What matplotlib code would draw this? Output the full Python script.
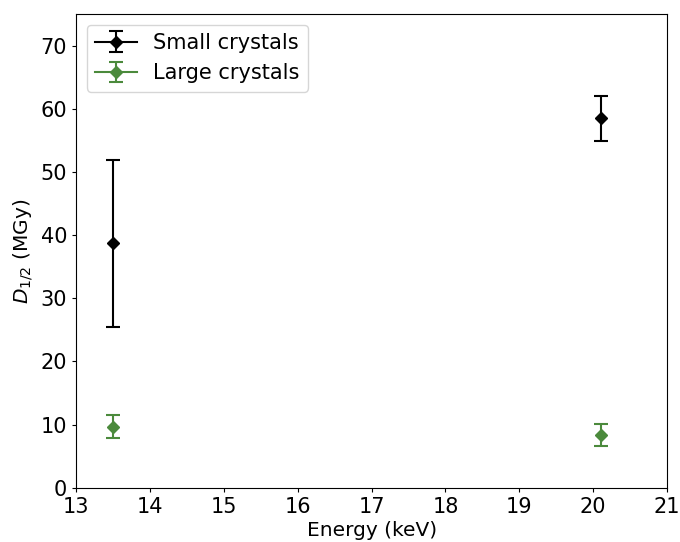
import numpy as np
import matplotlib
matplotlib.use('Agg')
import matplotlib.pyplot as plt

# data
energy = [13.5, 20.1]
small_d = [38.7, 58.5]
small_err = [13.2, 3.6]
large_d = [9.7, 8.3]
large_err = [1.8, 1.75]

plt.rcParams['font.size'] = 15

fig = plt.figure(figsize=(6.8, 5.42), dpi=100)
ax = fig.add_axes([0.112, 0.1, 0.869, 0.874])

# each point drawn on its own so the legend keeps a line but the points aren't joined
series = [(small_d, small_err, 'black', 'Small crystals'),
          (large_d, large_err, '#4b8a3c', 'Large crystals')]
for vals, errs, col, lab in series:
    for i in range(len(energy)):
        ax.errorbar([energy[i]], [vals[i]], yerr=[errs[i]], fmt='D-', color=col,
                    ms=6, capsize=5, elinewidth=1.5, capthick=1.5,
                    label=lab if i == 0 else None)

ax.set_xlim(13, 21)
ax.set_ylim(0, 75)
ax.set_xticks(np.arange(13, 22, 1))
ax.set_yticks(np.arange(0, 80, 10))
ax.tick_params(length=3)
ax.set_xlabel('Energy (keV)', fontsize=14.5, labelpad=3)
ax.set_ylabel(r'$D_{1/2}$ (MGy)', fontsize=14.5)
ax.legend(loc='upper left')

plt.savefig('out.png')
